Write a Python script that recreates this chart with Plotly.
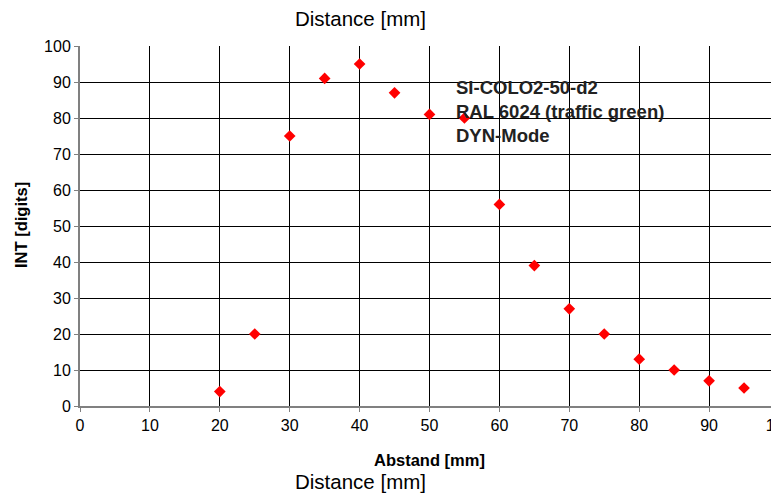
import plotly.graph_objects as go

distance_mm = [20, 25, 30, 35, 40, 45, 50, 55, 60, 65, 70, 75, 80, 85, 90, 95]
int_digits = [4, 20, 75, 91, 95, 87, 81, 80, 56, 39, 27, 20, 13, 10, 7, 5]
x_ticks = [0, 10, 20, 30, 40, 50, 60, 70, 80, 90, 100]
y_ticks = [0, 10, 20, 30, 40, 50, 60, 70, 80, 90, 100]
info_lines = ["SI-COLO2-50-d2", "RAL 6024 (traffic green)", "DYN-Mode"]

# page body has an 8px default margin; compensate so the figure fills the window
OFF = 8
W, H = 779 - OFF, 493 - OFF
L, R, T, B = 80 - OFF, 0, 46 - OFF, 87
pw, ph = W - L - R, H - T - B

def px(x):
    return (x - OFF - L) / pw

def py(y):
    return (H - B - (y - OFF)) / ph

FONT = "Liberation Sans, Arial, sans-serif"

fig = go.Figure()
fig.add_trace(go.Scatter(
    x=distance_mm, y=int_digits, mode="markers",
    marker=dict(symbol="diamond", size=9, color="#ff0000", line=dict(width=0)),
    showlegend=False, cliponaxis=False,
))

axis_common = dict(
    showgrid=True, gridcolor="#000000", gridwidth=1,
    zeroline=False, showline=True, linecolor="#808080", linewidth=2,
    ticks="outside", ticklen=4, tickcolor="#808080", tickwidth=1,
    tickfont=dict(family=FONT, size=16, color="#000000"),
    automargin=False, ticklabeloverflow="allow",
)

fig.update_layout(
    width=W, height=H,
    margin=dict(l=L, r=R, t=T, b=B, pad=0),
    paper_bgcolor="white", plot_bgcolor="white",
    xaxis=dict(range=[0, 100], tickvals=x_ticks, ticktext=[str(v) for v in x_ticks], **axis_common),
    yaxis=dict(range=[0, 100], tickvals=y_ticks, ticktext=[str(v) for v in y_ticks], **axis_common),
    font=dict(family=FONT, color="#000000"),
)

annotations = [
    dict(text="Distance [mm]", x=px(360), y=py(18), xref="paper", yref="paper",
         xanchor="center", yanchor="middle", showarrow=False,
         font=dict(family=FONT, size=20.5, color="#000")),
    dict(text="<b>Abstand [mm]</b>", x=px(429), y=py(460), xref="paper", yref="paper",
         xanchor="center", yanchor="middle", showarrow=False,
         font=dict(family=FONT, size=16.5, color="#000")),
    dict(text="Distance [mm]", x=px(360), y=py(481), xref="paper", yref="paper",
         xanchor="center", yanchor="middle", showarrow=False,
         font=dict(family=FONT, size=20.5, color="#000")),
    dict(text="<b>INT [digits]</b>", x=px(21), y=py(225), xref="paper", yref="paper",
         xanchor="center", yanchor="middle", showarrow=False, textangle=-90,
         font=dict(family=FONT, size=16.5, color="#000")),
    dict(text="<br>".join("<b>%s</b>" % s for s in info_lines), x=px(454), y=py(111),
         xref="paper", yref="paper", xanchor="left", yanchor="middle", align="left",
         showarrow=False, font=dict(family=FONT, size=18.5, color="#222")),
]
fig.update_layout(annotations=annotations)

fig.write_html("out.html")
